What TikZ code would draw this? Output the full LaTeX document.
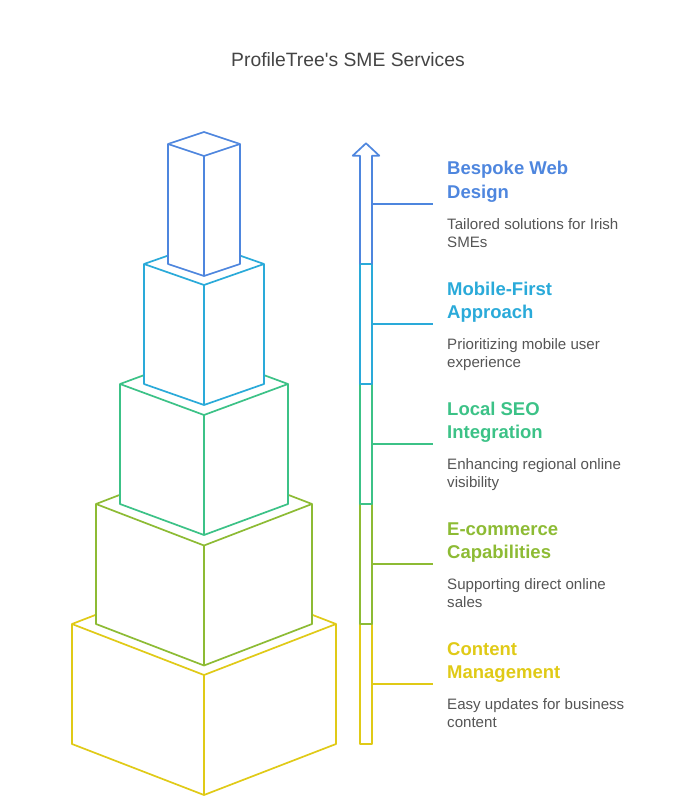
\documentclass[tikz,border=0pt]{standalone}
\usepackage{fontspec}
\setmainfont{Liberation Sans}
\usepackage{tikz}
\usetikzlibrary{positioning}
\usepackage{xcolor}
\definecolor{tierblue}{HTML}{4E86DE}
\definecolor{tiercyan}{HTML}{2AAAD9}
\definecolor{tiergreen}{HTML}{3CC287}
\definecolor{tierolive}{HTML}{8DBB34}
\definecolor{tieryellow}{HTML}{E0CA17}
\definecolor{desctext}{HTML}{555555}
\definecolor{titletext}{HTML}{444444}
% one tier of the stack: colour, top y, half width, slant
\newcommand\tierbox[4]{
  \filldraw[tierline=#1] (204,#2-#4) -- (204+#3,#2) -- (204+#3,#2+120) -- (204,#2+120+#4)
    -- (204-#3,#2+120) -- (204-#3,#2) -- cycle;
  \draw[tierline=#1] (204-#3,#2) -- (204,#2+#4) -- (204+#3,#2) (204,#2+#4) -- (204,#2+120+#4);
}
\tikzset{
  tierline/.style={draw=#1, fill=white, line width=1.7pt, line join=round},
  headtext/.style={anchor=base west, align=left, text=#1, inner sep=0pt,
    font=\fontsize{18.5}{23.5}\selectfont\bfseries},
  desctext/.style={anchor=base west, align=left, text=desctext, inner sep=0pt,
    font=\fontsize{15.1}{17.8}\selectfont},
}

\begin{document}
\begin{tikzpicture}[x=1pt, y=-1pt]
  \useasboundingbox (0,0) rectangle (696,810);
  \node[anchor=base, text=titletext, font=\fontsize{19.3}{22}\selectfont] (title) at (348,67) {ProfileTree\textquotesingle s SME Services};
  % stack, bottom first
  \foreach \tcol/\ty/\hw/\dh in {tieryellow/624/132/51, tierolive/504/108/41.5,
      tiergreen/384/84/31, tiercyan/264/60/21, tierblue/144/36/12}{
    \tierbox{\tcol}{\ty}{\hw}{\dh}
  }
  % arrow shaft
  \foreach \tcol/\ty in {tieryellow/624, tierolive/504, tiergreen/384, tiercyan/264}{
    \draw[tierline=\tcol] (360,\ty) rectangle (372,\ty+120);
  }
  \draw[tierline=tierblue, fill=none] (360,264) -- (360,155.7) -- (352.7,155.7) -- (366,143.3)
    -- (379.3,155.7) -- (372,155.7) -- (372,264);
  % labels
  \foreach \tcol/\ty/\head/\desc [count=\i] in {
      tierblue/204/{Bespoke Web\\Design}/{Tailored solutions for Irish\\SMEs},
      tiercyan/324/{Mobile-First\\Approach}/{Prioritizing mobile user\\experience},
      tiergreen/444/{Local SEO\\Integration}/{Enhancing regional online\\visibility},
      tierolive/564/{E-commerce\\Capabilities}/{Supporting direct online\\sales},
      tieryellow/684/{Content\\Management}/{Easy updates for business\\content}}{
    \coordinate (s\i) at (372,\ty);
    \coordinate (e\i) at (433,\ty);
    \draw[tierline=\tcol] (s\i) -- (e\i);
    \node[headtext=\tcol] (head\i) at (447,\ty-5.5) {\head};
    \node[desctext] (desc\i) at (447,\ty+43.5) {\desc};
  }
\end{tikzpicture}
\end{document}
